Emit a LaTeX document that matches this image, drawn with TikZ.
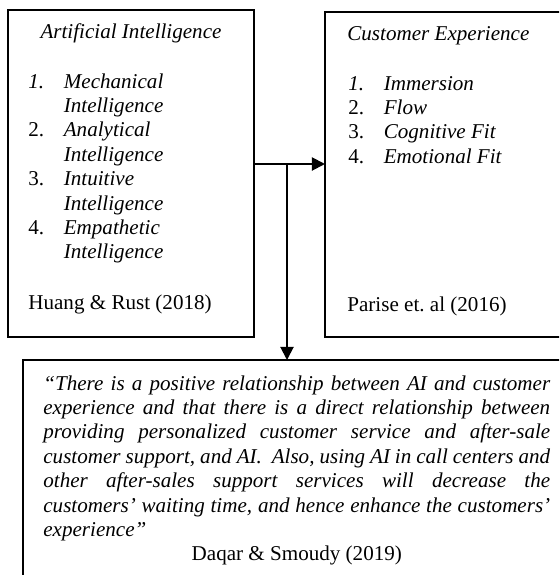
\documentclass[tikz,border=0pt]{standalone}
\usepackage{fontspec}
\setmainfont{Liberation Serif}
\usetikzlibrary{arrows.meta}
\tikzset{
  box/.style={draw, line width=.75pt, inner sep=0pt, outer sep=0pt, anchor=north west},
  txt/.style={inner sep=0pt, anchor=base west, font=\fontsize{12}{13.9}\selectfont},
  link/.style={line width=1.1pt, -{Triangle[length=7.5pt,width=7.5pt]}},
}
\begin{document}
\begin{tikzpicture}[x=0.02cm,y=-0.02cm]
\useasboundingbox (0,0) rectangle (559,575);
\clip (0,0) rectangle (559,575);
\node[box, minimum width=4.92cm, minimum height=6.54cm] (ai) at (8,10) {};
\node[box, minimum width=5cm, minimum height=6.5cm] (cx) at (325,12) {};
\node[box, minimum width=11cm, minimum height=5cm] (quote) at (23,360) {};
\node[txt, anchor=base, font=\fontsize{12}{13.9}\selectfont\itshape] (aititle) at (131,38) {Artificial Intelligence};
\node[txt, font=\fontsize{12}{13.9}\selectfont\itshape] (ailist) at (28,88) {%
  \begin{tabular}[t]{@{}p{20.2pt}@{}l@{}}
  1. & Mechanical\\
     & Intelligence\\
  \upshape 2. & Analytical\\
     & Intelligence\\
  \upshape 3. & Intuitive\\
     & Intelligence\\
  \upshape 4. & Empathetic\\
     & Intelligence
  \end{tabular}};
\node[txt] (airef) at (28,309) {Huang \& Rust (2018)};
\node[txt, font=\fontsize{12}{13.9}\selectfont\itshape] (cxtitle) at (347,40) {Customer Experience};
\node[txt, font=\fontsize{12}{13.9}\selectfont\itshape] (cxlist) at (348,90) {%
  \begin{tabular}[t]{@{}p{20.2pt}@{}l@{}}
  1. & Immersion\\
  \upshape 2. & Flow\\
  \upshape 3. & Cognitive Fit\\
  \upshape 4. & Emotional Fit
  \end{tabular}};
\node[txt] (cxref) at (347,311) {Parise et.\ al (2016)};
\node[txt] (quotetext) at (43,390) {\parbox[t]{288.5pt}{\itshape
  \hyphenpenalty=10000 \exhyphenpenalty=10000 \emergencystretch=1em
  “There is a positive relationship between AI and customer\linebreak
  experience and that there is a direct relationship between\linebreak
  providing personalized customer service and after-sale\linebreak
  customer support, and AI.\ \ Also, using AI in call centers and\linebreak
  other after-sales support services will decrease the\linebreak
  customers’ waiting time, and hence enhance the customers’\linebreak
  experience”\par
  \centering\upshape Daqar \& Smoudy (2019)\par}};
\coordinate (split) at (287,164);
\draw[link] (ai.east |- split) -- (cx.west |- split);
\draw[link] (split) -- (split |- quote.north);
\end{tikzpicture}
\end{document}
